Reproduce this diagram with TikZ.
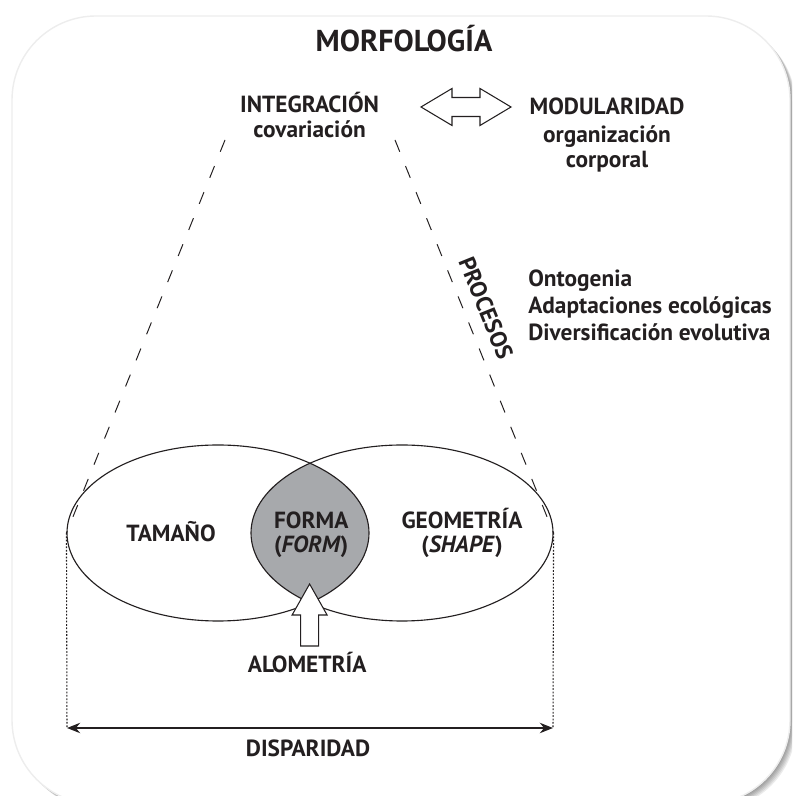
\documentclass[tikz,border=0pt]{standalone}
\usepackage{fontspec}
\setmainfont{PT Sans}
\usepackage{tikz}
\usetikzlibrary{arrows.meta, shapes.geometric}

\definecolor{ink}{RGB}{35,31,32}
\definecolor{lensgray}{RGB}{167,169,172}

\begin{document}
\begin{tikzpicture}[
    lbl/.style={font=\bfseries\fontsize{16.6}{19}\selectfont, text=ink, inner sep=0pt, anchor=base},
    ttl/.style={font=\bfseries\fontsize{21.5}{24}\selectfont, text=ink, inner sep=0pt, anchor=base},
    oval/.style={ellipse, draw=ink, line width=0.8pt, minimum width=7.55cm, minimum height=4.4cm, inner sep=0pt},
    guide/.style={draw=ink, line width=0.7pt, dash pattern=on 9pt off 11pt},
    dots/.style={draw=ink, line width=0.75pt, dash pattern=on 1.2pt off 1.2pt},
    blockarr/.style={draw=ink, fill=white, line width=0.75pt, line join=miter},
    arr/.style={{Stealth[length=3.3mm, width=2.6mm]}-{Stealth[length=3.3mm, width=2.6mm]}, draw=ink, line width=0.9pt}]
  \useasboundingbox (0,0) rectangle (19.8,19.9);
  % card with shadow
  \begin{scope}
    \clip (0,0) rectangle (19.8,19.9);
    \foreach \s in {1,...,6}
      \fill[black, opacity=0.08, rounded corners=2.1cm] ({0.3+0.025*\s},{-0.2-0.025*\s}) rectangle ({19.75+0.025*\s},{19.5-0.025*\s});
    \fill[white, rounded corners=2.1cm] (0.3,-0.2) rectangle (19.75,19.5);
    \draw[black!7, line width=1pt, rounded corners=2.1cm] (0.3,-0.2) rectangle (19.75,19.5);
  \end{scope}
  \node[ttl] (morf) at (10.1,18.6) {MORFOLOGÍA};
  % integration / modularity
  \node[lbl] (integ) at (7.74,17.075) {INTEGRACIÓN};
  \node[lbl] (covar) at (7.74,16.45) {covariación};
  \draw[blockarr, shift={(11.65,17.225)}] (-1.125,0) -- (-0.35,0.4625) -- (-0.35,0.2375) -- (0.35,0.2375) -- (0.35,0.4625)
    -- (1.125,0) -- (0.35,-0.4625) -- (0.35,-0.2375) -- (-0.35,-0.2375) -- (-0.35,-0.4625) -- cycle;
  \node[lbl] (modul) at (15.175,17.025) {MODULARIDAD};
  \node[lbl] (organ) at (15.175,16.325) {organización};
  \node[lbl] (corp) at (15.175,15.7) {corporal};
  % processes
  \node[lbl, anchor=center, rotate=-68] (proc) at (12.15,12.2) {PROCESOS};
  \node[lbl, anchor=base west] (onto) at (13.2,12.725) {Ontogenia};
  \node[lbl, anchor=base west] (adapt) at (13.2,12.05) {Adaptaciones ecológicas};
  \node[lbl, anchor=base west] (diver) at (13.2,11.375) {Diversificación evolutiva};
  % size and shape
  \begin{scope}
    \clip (5.45,6.575) ellipse [x radius=3.775cm, y radius=2.2cm];
    \fill[lensgray] (10.05,6.575) ellipse [x radius=3.775cm, y radius=2.2cm];
  \end{scope}
  \node[oval] (tam) at (5.45,6.575) {};
  \node[oval] (geo) at (10.05,6.575) {};
  \coordinate (tl) at (5.625,16.4);
  \coordinate (tr) at (9.875,16.4);
  \draw[guide] (tl) -- (tam.west);
  \draw[guide] (tr) -- (geo.east);
  \node[lbl] (tamano) at (4.275,6.35) {TAMAÑO};
  \node[lbl] (forma) at (7.78,6.675) {FORMA};
  \node[lbl] (form) at (7.78,6.075) {(\textit{FORM})};
  \node[lbl] (geom) at (11.55,6.675) {GEOMETRÍA};
  \node[lbl] (shape) at (11.55,6.075) {(\textit{SHAPE})};
  % allometry
  \draw[blockarr, shift={(7.74,5.3)}] (0,0) -- (0.4375,-0.775) -- (0.225,-0.775) -- (0.225,-1.55) -- (-0.225,-1.55)
    -- (-0.225,-0.775) -- (-0.4375,-0.775) -- cycle;
  \node[lbl] (alom) at (7.68,3.075) {ALOMETRÍA};
  % disparity
  \coordinate (dl) at (1.675,1.7);
  \coordinate (dr) at (13.825,1.7);
  \draw[dots] (tam.west) -- (dl);
  \draw[dots] (geo.east) -- (dr);
  \draw[arr] (dl) -- (dr);
  \node[lbl] (disp) at (7.7,0.975) {DISPARIDAD};
\end{tikzpicture}
\end{document}
